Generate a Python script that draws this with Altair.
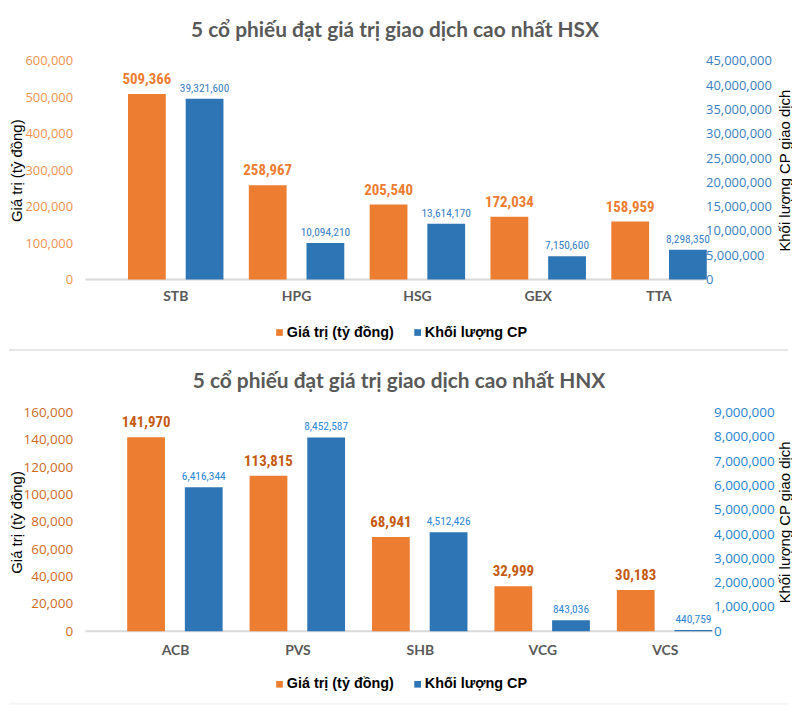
import altair as alt
import pandas as pd

SERIES = ["Giá trị (tỷ đồng)", "Khối lượng CP"]
ORANGE = "#ED7D31"
BLUE = "#2E75B6"

# ---- HSX ----
hsx_title = "5 cổ phiếu đạt giá trị giao dịch cao nhất HSX"
hsx_tickers = ["STB", "HPG", "HSG", "GEX", "TTA"]
hsx_value = [509366, 258967, 205540, 172034, 158959]
# bar heights as drawn against the right axis
hsx_volume_bar = [37200000, 7500000, 11500000, 4800000, 6100000]
hsx_volume_label = ["39,321,600", "10,094,210", "13,614,170", "7,150,600", "8,298,350"]
hsx_left_ticks = [0, 100000, 200000, 300000, 400000, 500000, 600000]
hsx_right_ticks = [0, 5000000, 10000000, 15000000, 20000000, 25000000,
                   30000000, 35000000, 40000000, 45000000]

# ---- HNX ----
hnx_title = "5 cổ phiếu đạt giá trị giao dịch cao nhất HNX"
hnx_tickers = ["ACB", "PVS", "SHB", "VCG", "VCS"]
hnx_value = [141970, 113815, 68941, 32999, 30183]
hnx_volume_bar = [5930000, 7980000, 4080000, 450000, 50000]
hnx_volume_label = ["6,416,344", "8,452,587", "4,512,426", "843,036", "440,759"]
hnx_left_ticks = [0, 20000, 40000, 60000, 80000, 100000, 120000, 140000, 160000]
hnx_right_ticks = [0, 1000000, 2000000, 3000000, 4000000, 5000000,
                   6000000, 7000000, 8000000, 9000000]

H = 220
NARROW = "'Liberation Sans Narrow', 'Roboto Condensed', Roboto, sans-serif"


def panel(title, tickers, values, vol_bars, vol_labels, left_ticks, right_ticks,
          width, xrange, st, sep_y):
    n = len(tickers)
    df = pd.DataFrame({
        "ticker": tickers + tickers,
        "series": [SERIES[0]] * n + [SERIES[1]] * n,
        "amount": values + vol_bars,
        "label": [f"{v:,}" for v in values] + vol_labels,
    })
    base = alt.Chart(df)
    x = alt.X("ticker:N", sort=tickers,
              scale=alt.Scale(range=xrange, paddingInner=0.21, paddingOuter=0.105),
              axis=alt.Axis(title=None, labelAngle=0, domain=False, ticks=False,
                            labelPadding=st["xlab_pad"], labelFont="Lato",
                            labelFontWeight="bold", labelFontSize=14,
                            labelColor="#595959"))
    xo = alt.XOffset("series:N",
                     scale=alt.Scale(domain=SERIES, paddingInner=0.345, paddingOuter=0))
    color = alt.Color("series:N", scale=alt.Scale(domain=SERIES, range=[ORANGE, BLUE]),
                      legend=alt.Legend(title=None, orient="none", legendX=188, legendY=266,
                                        direction="horizontal", symbolType="square",
                                        symbolSize=45, symbolStrokeWidth=0,
                                        labelFont="Liberation Sans", labelFontWeight="bold",
                                        labelFontSize=14.5, labelColor="#000000",
                                        columnPadding=16, labelOffset=0))
    yl = alt.Y("amount:Q", scale=alt.Scale(domain=[0, left_ticks[-1]], nice=False),
               axis=alt.Axis(title="Giá trị (tỷ đồng)", values=left_ticks, format=",.0f",
                             grid=False, domain=False, ticks=False, labelPadding=13,
                             labelFont="Open Sans", labelFontSize=st["tick_size"],
                             labelColor=st["left_tick"], titleFont="Liberation Sans",
                             titleFontSize=15, titleFontWeight="normal",
                             titleColor="#000000", titleBaseline="middle",
                             titleX=-69, titleY=H / 2))
    yr = alt.Y("amount:Q", scale=alt.Scale(domain=[0, right_ticks[-1]], nice=False),
               axis=alt.Axis(orient="right", title="Khối lượng CP giao dịch",
                             titleAngle=270, titleBaseline="middle", values=right_ticks,
                             format=",.0f", grid=False, domain=False, ticks=False,
                             labelPadding=1, labelFont="Open Sans",
                             labelFontSize=st["tick_size"], labelColor=st["right_tick"],
                             titleFont="Liberation Sans", titleFontSize=15,
                             titleFontWeight="normal", titleColor="#000000",
                             titleX=st["rtitle_x"], titleY=H / 2))
    is_val = alt.datum.series == SERIES[0]
    is_vol = alt.datum.series == SERIES[1]

    left = alt.layer(
        base.transform_filter(is_val).mark_bar().encode(x=x, xOffset=xo, y=yl, color=color),
        base.transform_filter(is_val).mark_text(
            baseline="bottom", dy=-7, font=NARROW, fontWeight="bold", fontSize=15,
            color=st["val_label"]).encode(x=x, xOffset=xo, y=yl, text="label:N"),
    )
    right = alt.layer(
        base.transform_filter(is_vol).mark_bar().encode(x=x, xOffset=xo, y=yr, color=color),
        base.transform_filter(is_vol).mark_text(
            baseline="bottom", dy=-5, font=NARROW, fontSize=11.5,
            color=st["vol_label"]).encode(x=x, xOffset=xo, y=yr, text="label:N"),
    )
    one = alt.Chart(pd.DataFrame({"k": [0]}))
    baseline = one.mark_rule(color="#D9D9D9", strokeWidth=2).encode(
        x=alt.value(0), x2=alt.value(width), y=alt.value(H))
    sep = one.mark_rule(color=st["sep_color"], strokeWidth=2).encode(
        x=alt.value(-77), x2=alt.value(707), y=alt.value(sep_y))
    return alt.layer(baseline, left, right, sep).resolve_scale(y="independent").properties(
        width=width, height=H,
        title=alt.TitleParams(text=title, font="Lato", fontSize=21, fontWeight="bold",
                              color="#595959", anchor="middle", offset=14))


hsx = panel(hsx_title, hsx_tickers, hsx_value, hsx_volume_bar, hsx_volume_label,
            hsx_left_ticks, hsx_right_ticks, 623, [30, 638],
            {"tick_size": 13, "left_tick": "#F0924F", "right_tick": "#3A7DC0",
             "val_label": "#ED7D31", "vol_label": "#3A80C4", "sep_color": "#E6E6E6",
             "rtitle_x": 80, "xlab_pad": 10},
            291)
hnx = panel(hnx_title, hnx_tickers, hnx_value, hnx_volume_bar, hnx_volume_label,
            hnx_left_ticks, hnx_right_ticks, 631, [29, 645],
            {"tick_size": 13.5, "left_tick": "#D06A25", "right_tick": "#2583D0",
             "val_label": "#C55A11", "vol_label": "#2E86D6", "sep_color": "#F4F4F4",
             "rtitle_x": 72, "xlab_pad": 12},
            293)

chart = alt.vconcat(hsx, hnx, spacing=20).resolve_scale(color="independent").properties(
    padding={"top": 10, "left": 0, "right": 0, "bottom": 0},
    background="white",
).configure_view(stroke=None)

chart.save("out.html", embed_options={"renderer": "svg", "actions": False})
